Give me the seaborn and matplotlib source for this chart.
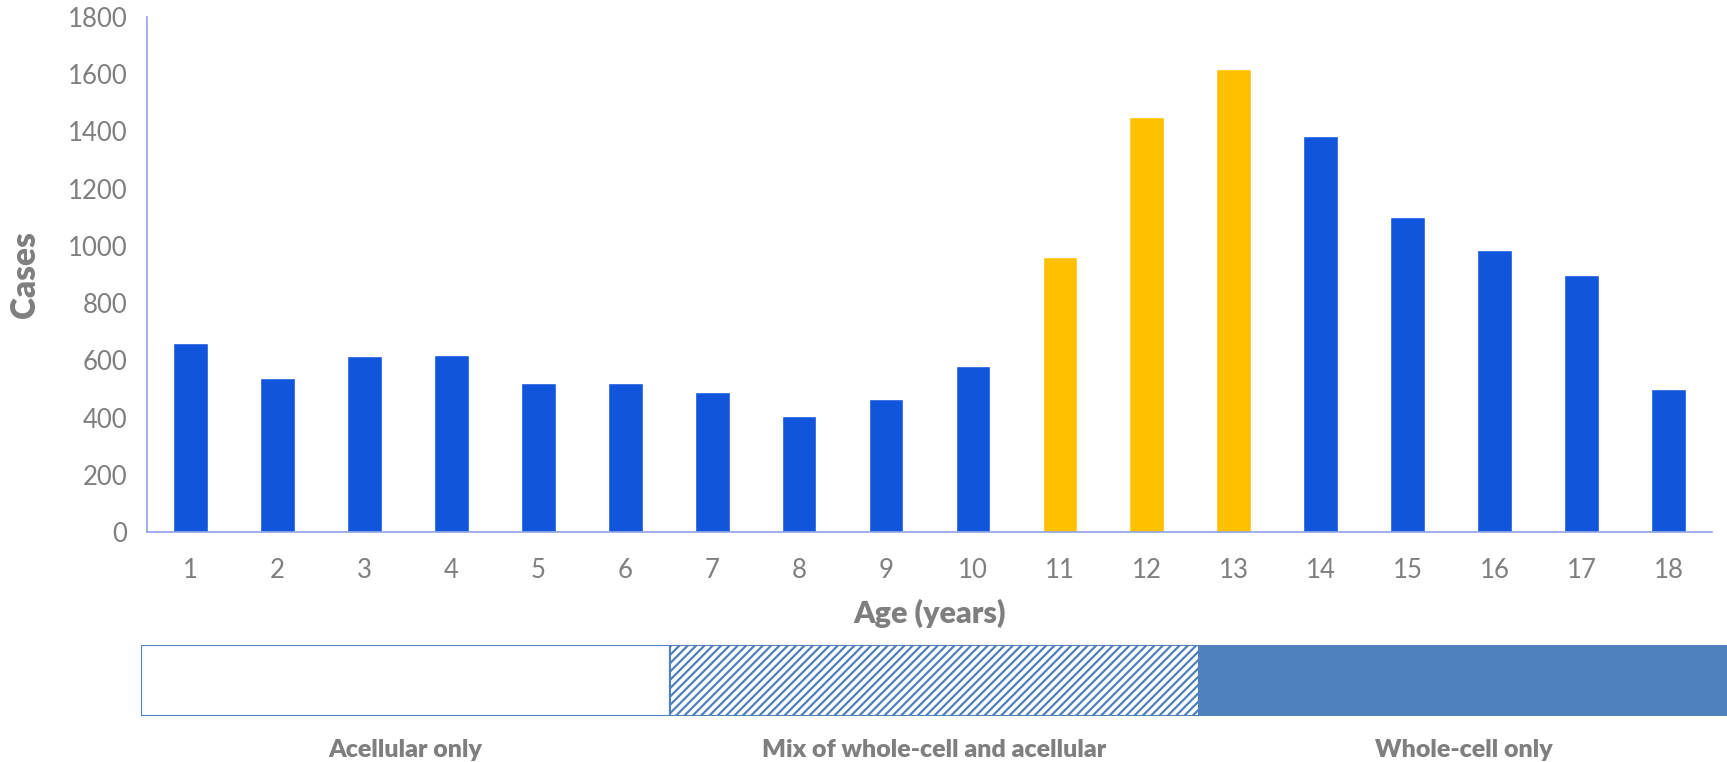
import pandas as pd
import matplotlib.pyplot as plt
import seaborn as sns

# Data
ages = [str(a) for a in range(1, 19)]
cases = [660, 540, 615, 620, 520, 520, 490, 405, 465, 580, 960, 1450, 1620, 1385, 1100, 985, 900, 500]
group = ['other'] * 10 + ['peak'] * 3 + ['other'] * 5

band_labels = ['Acellular only', 'Mix of whole-cell and acellular', 'Whole-cell only']
band_start = [0, 1, 2]
band_width = [1, 1, 1]

BLUE = '#1155DD'
YELLOW = '#FFC000'
BAND = '#4F81BD'
AXIS = '#8FA3E6'
GREY = '#7F7F7F'


def main():
    sns.set_theme(style="white")
    plt.rcParams['font.family'] = ['Lato', 'DejaVu Sans']
    plt.rcParams['hatch.linewidth'] = 1.6

    df = pd.DataFrame({'age': ages, 'cases': cases, 'group': group})

    fig = plt.figure(figsize=(17.27, 7.62), dpi=100)
    ax = fig.add_axes([147 / 1727, 1 - 532 / 762, (1712 - 147) / 1727, (532 - 17) / 762])

    sns.barplot(data=df, x='age', y='cases', hue='group', palette={'other': BLUE, 'peak': YELLOW},
                dodge=False, width=0.4, legend=False, ax=ax, saturation=1)

    ax.set_ylim(0, 1800)
    ax.set_xlim(-0.5, len(ages) - 0.5)
    ax.set_yticks(range(0, 1801, 200))
    ax.tick_params(axis='y', length=0, labelsize=18.5, labelcolor=GREY, pad=14)
    ax.set_xticks(range(len(ages)))
    ax.set_xticklabels(ages)
    ax.set_xticks([i - 0.5 for i in range(len(ages) + 1)], minor=True)
    ax.tick_params(axis='x', which='major', length=0, labelsize=18.5, labelcolor=GREY, pad=19)
    ax.tick_params(axis='x', which='minor', length=11, width=1.2, color=AXIS, direction='out')

    for s in ['top', 'right']:
        ax.spines[s].set_visible(False)
    for s in ['left', 'bottom']:
        ax.spines[s].set_color(AXIS)
        ax.spines[s].set_linewidth(1.2)

    ax.set_xlabel('Age (years)', fontsize=22, fontweight='heavy', color=GREY, labelpad=11)
    ax.set_ylabel('Cases', fontsize=24, fontweight='heavy', color=GREY, labelpad=19)

    # Vaccine-type band below the chart
    bx = fig.add_axes([141 / 1727, 1 - 716 / 762, 3 * 529 / 1727, (716 - 645) / 762])
    faces = ['white', 'white', BAND]
    hatches = [None, '////', None]
    for lab, st, w, fc, h in zip(band_labels, band_start, band_width, faces, hatches):
        bx.barh(0, w, left=st, height=1, color=fc, hatch=h, edgecolor=BAND, linewidth=0)
        bx.barh(0, w, left=st, height=1, fill=False, edgecolor=BAND, linewidth=1.5)
        bx.text(st + w / 2, -0.98, lab, ha='center', va='center', fontsize=18,
                fontweight='heavy', color=GREY)
    bx.set_xlim(0, 3)
    bx.set_ylim(-0.5, 0.5)
    bx.axis('off')

    fig.savefig('out.png', dpi=100)


if __name__ == "__main__":
    main()
